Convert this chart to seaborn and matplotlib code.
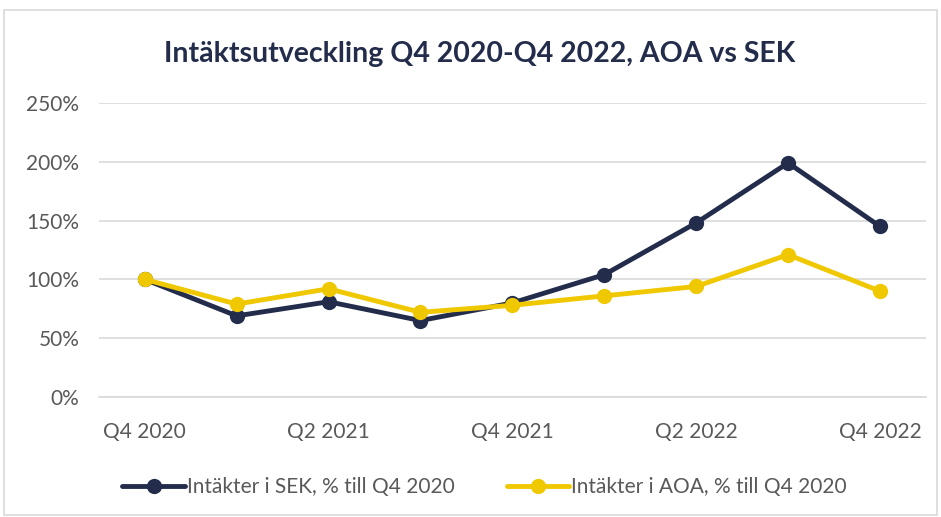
import pandas as pd
import seaborn as sns
import matplotlib.pyplot as plt
from matplotlib.patches import Rectangle
from matplotlib.ticker import FuncFormatter

# Kvartal och intäktsindex (% av Q4 2020)
quarters = ["Q4 2020", "Q1 2021", "Q2 2021", "Q3 2021", "Q4 2021",
            "Q1 2022", "Q2 2022", "Q3 2022", "Q4 2022"]
sek_values = [100, 69, 81, 65, 80, 104, 148, 199, 145]
aoa_values = [100, 79, 92, 72, 78, 86, 94, 121, 90]
series_names = ["Intäkter i SEK, % till Q4 2020", "Intäkter i AOA, % till Q4 2020"]

navy = "#232D4B"
yellow = "#F0C800"
text_gray = "#595959"

df = pd.DataFrame({
    "Kvartal": quarters * 2,
    "Index": sek_values + aoa_values,
    "Serie": [series_names[0]] * len(quarters) + [series_names[1]] * len(quarters),
})
df["pos"] = df["Kvartal"].map({q: i for i, q in enumerate(quarters)})

sns.set_style("white")
plt.rcParams["font.family"] = ["Lato", "DejaVu Sans"]

fig = plt.figure(figsize=(9.41, 5.17), dpi=100)
ax = fig.add_axes([0.105, 0.232, 0.879, 0.569])

sns.lineplot(data=df, x="pos", y="Index", hue="Serie", palette=[navy, yellow],
             marker="o", markersize=11, markeredgewidth=0, linewidth=3.5,
             sort=False, ax=ax)

ax.set_xlim(-0.5, len(quarters) - 0.5)
ax.set_ylim(0, 250)
ax.set_yticks(range(0, 251, 50))
ax.yaxis.set_major_formatter(FuncFormatter(lambda v, p: f"{int(v)}%"))
ax.set_xticks(range(0, len(quarters), 2))
ax.set_xticklabels(quarters[::2])
ax.grid(axis="y", color="#D9D9D9", linewidth=1.2)
ax.set_axisbelow(True)
for side in ["top", "right", "left"]:
    ax.spines[side].set_visible(False)
ax.spines["bottom"].set_color("#D9D9D9")
ax.spines["bottom"].set_linewidth(1.2)
ax.tick_params(axis="both", length=0, labelsize=15, colors=text_gray)
ax.tick_params(axis="x", pad=18)
ax.tick_params(axis="y", pad=14)
ax.set_xlabel("")
ax.set_ylabel("")

fig.text(0.51, 0.895, "Intäktsutveckling Q4 2020-Q4 2022, AOA vs SEK",
         ha="center", va="center", fontsize=20.5, fontweight="bold", color=navy)

handles, labels = ax.get_legend_handles_labels()
ax.legend(handles, labels, loc="center", bbox_to_anchor=(0.515, 0.058),
          bbox_transform=fig.transFigure, ncol=2, frameon=False,
          fontsize=15, labelcolor=text_gray, handlelength=3, handletextpad=0.1,
          columnspacing=2.5)

fig.patches.append(Rectangle((0.004, 0.004), 0.992, 0.976, transform=fig.transFigure,
                             fill=False, edgecolor="#D9D9D9", linewidth=1.2))

plt.savefig("out.png", dpi=100)
